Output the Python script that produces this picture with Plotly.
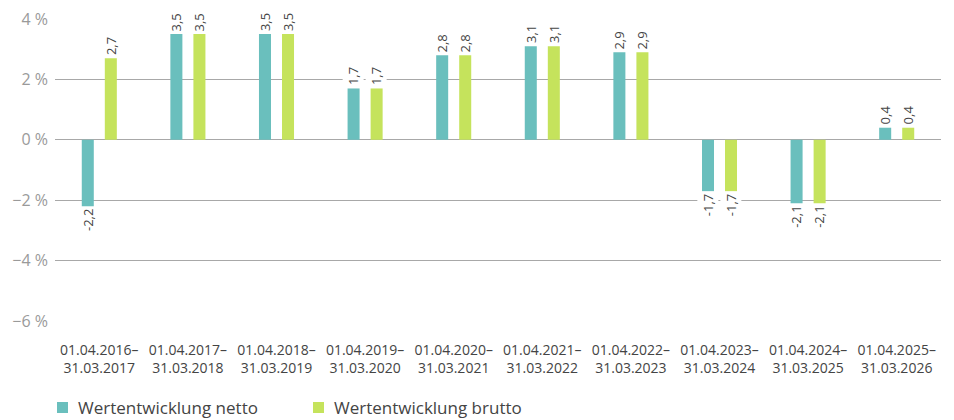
import plotly.graph_objects as go

categories = ["01.04.2016–<br>31.03.2017", "01.04.2017–<br>31.03.2018", "01.04.2018–<br>31.03.2019",
              "01.04.2019–<br>31.03.2020", "01.04.2020–<br>31.03.2021", "01.04.2021–<br>31.03.2022",
              "01.04.2022–<br>31.03.2023", "01.04.2023–<br>31.03.2024", "01.04.2024–<br>31.03.2025",
              "01.04.2025–<br>31.03.2026"]
netto = [-2.2, 3.5, 3.5, 1.7, 2.8, 3.1, 2.9, -1.7, -2.1, 0.4]
brutto = [2.7, 3.5, 3.5, 1.7, 2.8, 3.1, 2.9, -1.7, -2.1, 0.4]
names = ["Wertentwicklung netto", "Wertentwicklung brutto"]
colors = ["#6abfbd", "#c5e35c"]
y_ticks = [4, 2, 0, -2, -4, -6]
y_ticktext = ["4 %", "2 %", "0 %", "−2 %", "−4 %", "−6 %"]

FONT = "Open Sans, Liberation Sans, sans-serif"
W, H = 954, 420
ML, MR, MT, MB = 55, 13, 19, 99
PW, PH = W - ML - MR, H - MT - MB

def px_x(p):
    return (p - ML) / PW

def px_y(p):
    return (H - MB - p) / PH

fig = go.Figure()
for vals, name, col in zip([netto, brutto], names, colors):
    fig.add_trace(go.Bar(x=categories, y=vals, name=name, marker_color=col,
                         marker_line_width=0, hoverinfo="skip", showlegend=False))

def fmt(v):
    return f"{v:.1f}".replace(".", ",")

for vals, shift in zip([netto, brutto], [-11.5, 11.5]):
    for c, v in zip(categories, vals):
        fig.add_annotation(x=c, y=v, xref="x", yref="y", text=fmt(v), textangle=-90,
                           showarrow=False, xshift=shift,
                           yanchor="bottom" if v >= 0 else "top",
                           yshift=1 if v >= 0 else -1,
                           font=dict(family=FONT, size=13, color="#444"),
                           bgcolor="white", borderpad=1)

# legend drawn as squares + labels
legend_x = [57, 313]
for lx, name, col in zip(legend_x, names, colors):
    fig.add_shape(type="rect", xref="paper", yref="paper",
                  x0=px_x(lx), x1=px_x(lx + 11), y0=px_y(413), y1=px_y(402),
                  fillcolor=col, line_width=0)
    fig.add_annotation(x=px_x(lx + 19), y=px_y(407.5), xref="paper", yref="paper",
                       text=name, showarrow=False, xanchor="left", yanchor="middle",
                       font=dict(family=FONT, size=17, color="#444"))

fig.update_layout(
    width=W, height=H,
    margin=dict(l=ML, r=MR, t=MT, b=MB, autoexpand=False),
    paper_bgcolor="white", plot_bgcolor="white",
    barmode="group", bargap=0.48, bargroupgap=0.478,
    font=dict(family=FONT),
    showlegend=False,
    xaxis=dict(showgrid=False, showline=False, ticks="", zeroline=False, automargin=False,
               ticklabelstandoff=19,
               tickfont=dict(family=FONT, size=14, color="#444"), fixedrange=True),
    yaxis=dict(range=[-6, 4], tickvals=y_ticks, ticktext=y_ticktext, automargin=False,
               showgrid=True, gridcolor="#a8a8a8", gridwidth=1,
               zeroline=True, zerolinecolor="#a8a8a8", zerolinewidth=1,
               showline=False, ticks="", ticklabelstandoff=6,
               tickfont=dict(family=FONT, size=16, color="#9a9a9a"), fixedrange=True),
)

fig.write_html("out.html", config={"displayModeBar": False, "staticPlot": True},
               post_script="document.body.style.margin='0';document.body.style.padding='0';")
